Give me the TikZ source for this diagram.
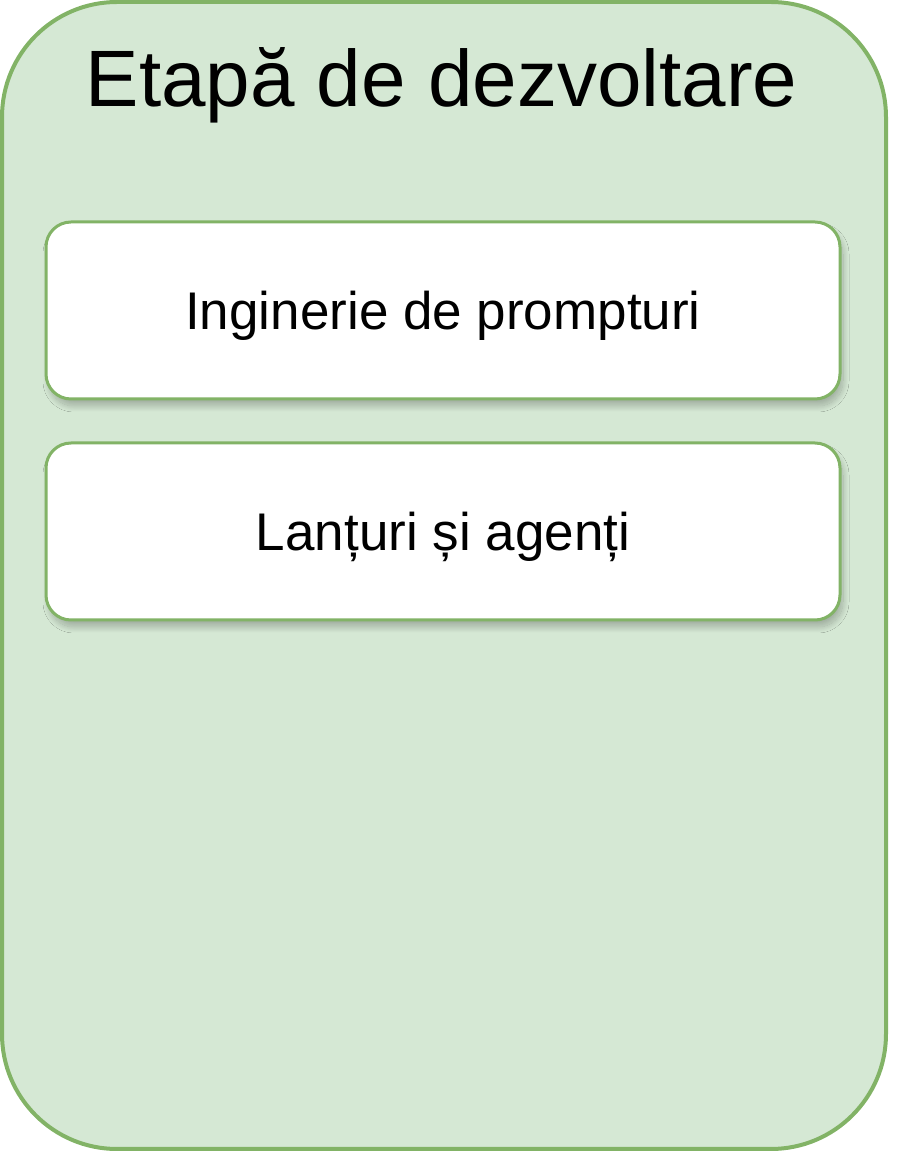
\documentclass[tikz,border=0pt]{standalone}
\usepackage{fontspec}
\setmainfont{Liberation Sans}
\usetikzlibrary{shadows.blur}
\definecolor{stagefill}{HTML}{D5E8D4}
\definecolor{stageline}{HTML}{82B366}

\begin{document}
\begin{tikzpicture}[x=1pt,y=1pt,
        stage/.style={draw=stageline, line width=4pt, fill=stagefill, rounded corners=115pt, inner sep=0pt},
        task/.style={draw=stageline, line width=3pt, fill=white, rounded corners=25pt,
            minimum width=794pt, minimum height=177pt, inner sep=0pt,
            text height=38pt, text depth=0pt, font=\fontsize{53}{60}\selectfont,
            blur shadow={shadow xshift=3pt, shadow yshift=-7pt, shadow blur radius=6pt,
                shadow blur steps=20, shadow opacity=25}}]
        \useasboundingbox (0,0) rectangle (922,1152);
        % stage container
        \node[stage, minimum width=884pt, minimum height=1147pt] (stage) at (444,576.5) {};
        \node[font=\fontsize{80}{96}\selectfont, anchor=base] (title) at (441.5,1045) {Etapă de dezvoltare};
        % tasks
        \node[task] (prompt) at (443,841.5) {Inginerie de prompturi};
        \node[task] (chains) at (443,620.5) {Lanțuri și agenți};
    \end{tikzpicture}
\end{document}
